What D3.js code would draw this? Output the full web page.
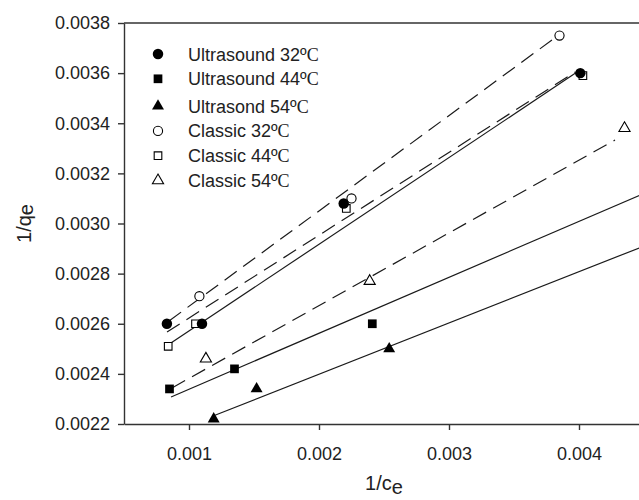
<!DOCTYPE html>
<html>
<head>
<meta charset="utf-8">
<script src="https://cdn.jsdelivr.net/npm/d3@7"></script>
<style>
  body { margin: 0; background: #fff; }
  text { font-family: "Liberation Sans", Arial, sans-serif; fill: #222; }
  .axis path, .axis line { stroke: #333; stroke-width: 1.4; }
</style>
</head>
<body>
<svg id="draw"></svg>
<script>
// legend labels
var seriesNames = ["Ultrasound 32º", "Ultrasound 44º", "Ultrasond 54º", "Classic 32º", "Classic 44º", "Classic 54º"];

// points (1/ce, 1/qe)
var us32X = [0.00083, 0.0011, 0.00219, 0.00401];
var us32Y = [0.0026, 0.0026, 0.00308, 0.0036];
var us44X = [0.00085, 0.00135, 0.00241];
var us44Y = [0.00234, 0.00242, 0.0026];
var us54X = [0.00119, 0.00152, 0.00254];
var us54Y = [0.00222, 0.00234, 0.0025];
var cl32X = [0.00108, 0.00225, 0.00385];
var cl32Y = [0.00271, 0.0031, 0.00375];
var cl44X = [0.00084, 0.00105, 0.00221, 0.00403];
var cl44Y = [0.00251, 0.0026, 0.00306, 0.00359];
var cl54X = [0.00113, 0.00239, 0.00435];
var cl54Y = [0.00246, 0.00277, 0.00338];

// fitted lines, end points
var fitUs32 = [[0.000838, 0.002515], [0.003985, 0.003604]];
var fitUs44 = [[0.000862, 0.002308], [0.0045, 0.00312]];
var fitUs54 = [[0.001185, 0.002232], [0.0045, 0.00291]];
var fitCl32 = [[0.000846, 0.002611], [0.003823, 0.003744]];
var fitCl44 = [[0.000831, 0.002567], [0.003969, 0.003604]];
var fitCl54 = [[0.000869, 0.002344], [0.004277, 0.003333]];

// axis ticks
var xTicks = [0.001, 0.002, 0.003, 0.004];
var yTicks = [0.0022, 0.0024, 0.0026, 0.0028, 0.0030, 0.0032, 0.0034, 0.0036, 0.0038];

var W = 639, H = 500;
var mLeft = 124, mTop = 23, mRight = 644, mBottom = 424;

var svg = d3.select("#draw")
  .attr("width", W)
  .attr("height", H);

var xScale = d3.scaleLinear().domain([0.0005, 0.0045]).range([mLeft, mRight]);
var yScale = d3.scaleLinear().domain([0.0022, 0.0038]).range([mBottom, mTop]);

function zip(xs, ys) {
  return xs.map(function(x, i) { return [x, ys[i]]; });
}

// clip for the plot area
svg.append("clipPath").attr("id", "plot")
  .append("rect")
  .attr("x", mLeft).attr("y", mTop)
  .attr("width", mRight - mLeft).attr("height", mBottom - mTop);

// fitted lines
var line = d3.line()
  .x(function(d) { return xScale(d[0]); })
  .y(function(d) { return yScale(d[1]); });

var fits = [
  { d: fitCl32, dash: true },
  { d: fitCl44, dash: true },
  { d: fitCl54, dash: true },
  { d: fitUs32, dash: false },
  { d: fitUs44, dash: false },
  { d: fitUs54, dash: false }
];

svg.append("g").attr("clip-path", "url(#plot)")
  .selectAll(".fit")
  .data(fits)
  .enter().append("path")
  .attr("class", "fit")
  .attr("d", function(f) { return line(f.d); })
  .attr("fill", "none")
  .attr("stroke", "#1a1a1a")
  .attr("stroke-width", 1.2)
  .attr("stroke-dasharray", function(f) { return f.dash ? "15,8" : null; });

// marker styles, classic drawn first so filled ones sit on top
var styles = [
  { type: d3.symbolCircle, size: 86, filled: true },
  { type: d3.symbolSquare, size: 76, filled: true },
  { type: d3.symbolTriangle, size: 62, filled: true },
  { type: d3.symbolCircle, size: 66, filled: false },
  { type: d3.symbolSquare, size: 58, filled: false },
  { type: d3.symbolTriangle, size: 54, filled: false }
];

var series = [
  zip(us32X, us32Y), zip(us44X, us44Y), zip(us54X, us54Y),
  zip(cl32X, cl32Y), zip(cl44X, cl44Y), zip(cl54X, cl54Y)
];

var order = [3, 4, 5, 0, 1, 2];
order.forEach(function(k) {
  var st = styles[k];
  svg.append("g")
    .selectAll(".dot")
    .data(series[k])
    .enter().append("path")
    .attr("class", "dot")
    .attr("transform", function(d) {
      return "translate(" + xScale(d[0]) + "," + yScale(d[1]) + ")";
    })
    .attr("d", d3.symbol().type(st.type).size(st.size))
    .attr("fill", st.filled ? "#000" : "#fff")
    .attr("stroke", "#000")
    .attr("stroke-width", st.filled ? 0 : 1.1);
});

// axes
svg.append("g")
  .attr("class", "axis")
  .attr("transform", "translate(0," + mBottom + ")")
  .call(d3.axisBottom(xScale)
    .tickValues(xTicks)
    .tickSizeInner(6)
    .tickSizeOuter(0)
    .tickPadding(17)
    .tickFormat(d3.format(".3f")))
  .selectAll("text")
  .style("font-size", "18px");

svg.append("g")
  .attr("class", "axis")
  .attr("transform", "translate(" + mLeft + ",0)")
  .call(d3.axisLeft(yScale)
    .tickValues(yTicks)
    .tickSizeInner(6)
    .tickSizeOuter(0)
    .tickPadding(8)
    .tickFormat(d3.format(".4f")))
  .selectAll("text")
  .style("font-size", "18px");

// top frame line
svg.append("line")
  .attr("x1", mLeft).attr("x2", mRight)
  .attr("y1", mTop).attr("y2", mTop)
  .attr("stroke", "#333")
  .attr("stroke-width", 1.6);

// axis titles
var xt = svg.append("text")
  .attr("x", (mLeft + mRight) / 2)
  .attr("y", 490)
  .attr("text-anchor", "middle")
  .style("font-size", "20px")
  .text("1/c");
xt.append("tspan").attr("dy", 4).text("e");

var yt = svg.append("text")
  .attr("transform", "translate(31," + ((mTop + mBottom) / 2) + ") rotate(-90)")
  .attr("text-anchor", "middle")
  .style("font-size", "20px")
  .text("1/q");
yt.append("tspan").attr("dy", 2).text("e");

// legend (third row sits a bit lower in the original)
var legend = svg.append("g").attr("class", "legend");
seriesNames.forEach(function(name, i) {
  var cy = 54 + i * 24.8 + (i >= 2 ? 2.5 : 0);
  var st = styles[i];
  legend.append("path")
    .attr("transform", "translate(158," + cy + ")")
    .attr("d", d3.symbol().type(st.type).size(st.size))
    .attr("fill", st.filled ? "#000" : "#fff")
    .attr("stroke", "#000")
    .attr("stroke-width", st.filled ? 0 : 1.1);
  var t = legend.append("text")
    .attr("x", 188)
    .attr("y", cy + 6.5)
    .style("font-size", "18px")
    .text(name);
  t.append("tspan")
    .style("font-family", "'Liberation Serif', 'Times New Roman', serif")
    .text("C");
});
</script>
</body>
</html>
